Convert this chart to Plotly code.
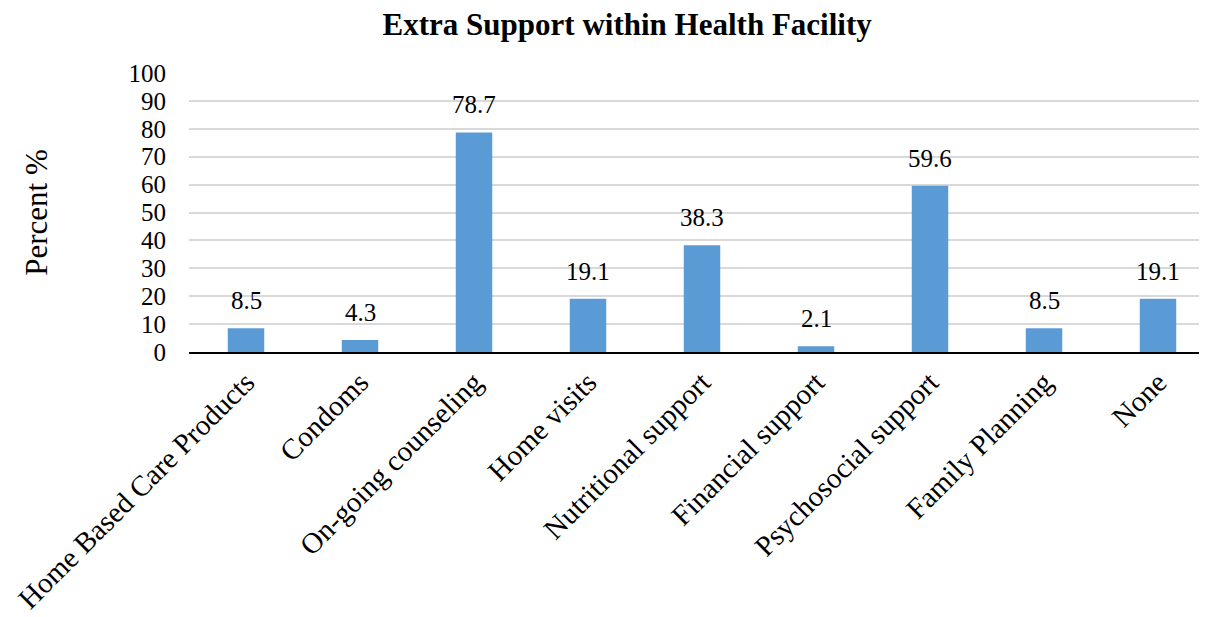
import plotly.graph_objects as go

categories = ["Home Based Care Products", "Condoms", "On-going counseling", "Home visits",
              "Nutritional support", "Financial support", "Psychosocial support",
              "Family Planning", "None"]
percent = [8.5, 4.3, 78.7, 19.1, 38.3, 2.1, 59.6, 8.5, 19.1]
y_ticks = [0, 10, 20, 30, 40, 50, 60, 70, 80, 90, 100]

serif = "Liberation Serif, Times New Roman, serif"

fig = go.Figure()
fig.add_trace(go.Bar(
    x=categories, y=percent,
    marker=dict(color="#5b9bd5", line=dict(width=0)),
    width=0.32,
))

# value labels sit a little above each bar
for c, v in zip(categories, percent):
    fig.add_annotation(x=c, y=v, text=str(v), showarrow=False, yanchor="bottom",
                       yshift=12, font=dict(family=serif, size=25, color="black"))

# page body has an 8px margin, so the figure is shifted a bit
fig.update_layout(
    width=1207, height=609,
    margin=dict(l=181, r=0, t=65, b=265),
    plot_bgcolor="white", paper_bgcolor="white",
    showlegend=False,
    title=dict(text="<b>Extra Support within Health Facility</b>", x=0.513, xanchor="center",
               yref="container", y=1 - 5 / 609, yanchor="top",
               font=dict(family=serif, size=31, color="black")),
    font=dict(family=serif, color="black"),
)
fig.update_xaxes(
    tickangle=-45, tickfont=dict(family=serif, size=29, color="black"),
    showline=True, linecolor="black", linewidth=1.5, showgrid=False, ticks="",
    automargin=False,
)
fig.update_yaxes(
    range=[0, 100], tickvals=y_ticks, showgrid=True, gridcolor="#d9d9d9", gridwidth=1.5,
    tickfont=dict(family=serif, size=25, color="black"), zeroline=False, ticks="",
    ticklabelstandoff=22, automargin=False,
    title=dict(text="Percent %", font=dict(family=serif, size=31, color="black"), standoff=71),
)

fig.write_html("out.html")
